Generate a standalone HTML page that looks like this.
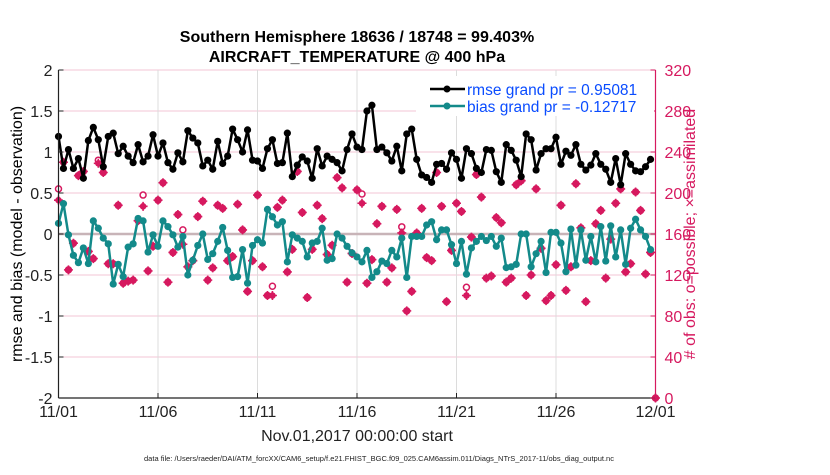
<!DOCTYPE html>
<html><head><meta charset="utf-8"><style>
body{margin:0;background:#fff;width:830px;height:470px;overflow:hidden}
svg text{font-family:"Liberation Sans",sans-serif}
</style></head><body>
<svg id="chart" width="830" height="470" xmlns="http://www.w3.org/2000/svg">
<rect width="830" height="470" fill="#fff"/>
<text x="357" y="42" text-anchor="middle" font-size="16" font-weight="bold">Southern Hemisphere 18636 / 18748 = 99.403%</text>
<text x="357" y="62" text-anchor="middle" font-size="16" font-weight="bold">AIRCRAFT_TEMPERATURE @ 400 hPa</text>
<g id="grid"></g>
<g id="marks"></g>
<g id="axes"></g>
<text transform="translate(22,234) rotate(-90)" text-anchor="middle" font-size="16">rmse and bias (model - observation)</text>
<text transform="translate(695,234) rotate(-90)" text-anchor="middle" font-size="16" fill="#d6195f"># of obs: o=possible; ×=assimilated</text>
<text x="357" y="441" text-anchor="middle" font-size="16" fill="#222">Nov.01,2017 00:00:00 start</text>
<text x="379" y="461" text-anchor="middle" font-size="7.5" fill="#222">data file: /Users/raeder/DAI/ATM_forcXX/CAM6_setup/f.e21.FHIST_BGC.f09_025.CAM6assim.011/Diags_NTrS_2017-11/obs_diag_output.nc</text>
<g>
<rect x="416" y="76" width="238" height="40" fill="#fff"/>
<line x1="430" y1="89" x2="465" y2="89" stroke="#000" stroke-width="2.5"/>
<circle cx="447" cy="89" r="3.5" fill="#000"/>
<text x="467" y="95" font-size="15.5" fill="#0a4cff">rmse grand pr = 0.95081</text>
<line x1="430" y1="106" x2="465" y2="106" stroke="#138a8a" stroke-width="2.5"/>
<circle cx="447" cy="106" r="3.5" fill="#138a8a"/>
<text x="467" y="112" font-size="15.5" fill="#0a4cff">bias grand pr = -0.12717</text>
</g>
</svg>
<script>
const xTickLabels=["11/01","11/06","11/11","11/16","11/21","11/26","12/01"];
const leftTicks=[-2,-1.5,-1,-0.5,0,0.5,1,1.5,2];
const rightTicks=[0,40,80,120,160,200,240,280,320];
const rmse=[1.19,0.80,1.03,0.80,0.92,0.68,1.14,1.30,1.15,0.82,1.19,1.23,0.98,1.07,0.95,0.87,1.09,0.88,0.95,1.21,0.95,1.11,0.87,0.79,0.99,0.88,1.26,1.17,1.11,0.83,0.90,0.79,1.13,0.86,0.95,1.28,1.15,1.00,1.27,0.90,0.89,0.80,1.04,1.15,0.86,0.87,1.23,0.70,0.84,0.94,0.89,0.68,1.04,0.83,0.95,0.91,0.87,0.77,1.03,1.22,1.06,1.03,1.50,1.57,1.03,1.06,0.99,0.89,1.07,0.77,1.22,1.28,0.91,0.72,0.69,0.63,0.85,0.86,0.79,0.99,0.91,0.68,1.04,0.98,0.80,0.75,1.03,1.02,0.76,0.63,1.09,1.02,0.90,0.70,1.22,1.15,0.78,0.98,1.04,1.04,1.18,0.85,1.01,0.96,1.09,0.85,0.78,0.84,0.98,0.85,0.79,0.63,0.92,0.60,0.98,0.85,0.77,0.76,0.82,0.91];
const bias=[0.13,0.37,-0.01,-0.26,-0.35,-0.17,-0.36,0.16,0.07,-0.05,-0.12,-0.61,-0.37,-0.52,-0.16,-0.12,0.19,0.16,-0.22,-0.01,-0.15,0.16,0.09,-0.01,-0.16,-0.03,-0.50,-0.32,-0.14,0.00,-0.31,-0.24,-0.09,0.08,-0.20,-0.53,-0.52,-0.19,-0.60,-0.14,-0.07,-0.11,0.30,0.21,0.11,0.15,-0.34,-0.01,-0.05,-0.09,-0.28,-0.11,-0.09,0.07,-0.32,-0.30,0.00,-0.05,-0.15,-0.23,-0.28,-0.34,-0.20,-0.53,-0.46,-0.33,-0.36,-0.20,-0.28,-0.05,-0.53,-0.03,-0.03,-0.03,0.11,0.15,-0.07,0.05,0.05,-0.13,-0.36,-0.09,-0.49,-0.17,-0.09,-0.03,-0.08,-0.03,-0.15,-0.05,-0.41,-0.40,-0.37,0.00,0.00,-0.40,-0.24,-0.09,-0.47,0.02,0.02,-0.11,-0.46,0.06,-0.38,0.05,-0.32,-0.03,-0.34,0.09,-0.33,0.10,-0.28,0.05,-0.37,0.07,0.18,0.05,-0.03,-0.19];
const nAssim=[193,230,125,151,217,221,143,136,229,220,131,131,188,112,114,115,173,187,124,148,193,210,113,142,179,150,128,134,177,192,115,127,188,185,134,138,189,164,104,134,198,128,100,100,186,193,123,145,221,181,98,145,188,175,140,149,215,205,113,141,203,190,112,135,170,187,113,127,184,161,85,104,161,185,137,134,220,187,94,144,190,182,100,157,218,196,117,119,176,171,113,117,208,212,100,120,204,146,95,100,130,188,105,128,209,166,94,134,170,183,117,155,190,204,123,131,201,183,121,142,0];
const nPoss=[204,230,125,151,217,221,143,136,232,220,131,131,188,112,114,115,173,198,124,148,193,210,113,142,179,164,128,134,177,192,115,127,188,185,134,138,189,164,104,134,198,128,100,109,186,193,123,145,221,181,98,145,188,175,140,149,215,205,113,141,203,199,112,135,170,187,113,127,184,167,85,104,161,185,137,134,220,187,94,144,190,182,108,157,218,196,117,119,176,171,113,117,208,212,100,120,204,146,95,100,130,188,105,128,209,166,94,134,170,183,117,155,190,204,123,131,201,183,121,142,0];
const NS='http://www.w3.org/2000/svg';
const X0=58.5,X1=655.5,YT=70,YB=398;
const xOf=d=>X0+(X1-X0)*d/30;
const yL=v=>YB-(YB-YT)*(v+2)/4;
const yR=c=>YB-(YB-YT)*c/320;
function mk(tag,attrs,parent){const e=document.createElementNS(NS,tag);for(const k in attrs)e.setAttribute(k,attrs[k]);parent.appendChild(e);return e;}
const grid=document.getElementById('grid'),marks=document.getElementById('marks'),axes=document.getElementById('axes');
rightTicks.forEach(c=>{const l=mk('line',{x1:X0,x2:X1,y1:yR(c),y2:yR(c),stroke:'#f3c6d6','stroke-width':1},grid);

});
xTickLabels.forEach((t,i)=>{const x=xOf(i*5);
if(i>0&&i<6){const g=mk('line',{x1:x,x2:x,y1:YT,y2:YB,stroke:'#dcdcdc','stroke-width':1},grid);

}
mk('line',{x1:x,x2:x,y1:YB,y2:YB-5,stroke:'#222'},axes);
const tx=mk('text',{x:x,y:417,'text-anchor':'middle','font-size':16,fill:'#222'},axes);tx.textContent=t;

});
const zl=mk('line',{x1:X0,x2:X1,y1:yL(0),y2:yL(0),stroke:'#c8b4b8','stroke-width':2.5},grid);


nPoss.forEach((c,i)=>{const cc=mk('circle',{cx:xOf(i*0.25),cy:yR(c),r:3,fill:'#fff',stroke:'#d6195f','stroke-width':1.5},marks);

});
nAssim.forEach((c,i)=>{const x=xOf(i*0.25),y=yR(c);const g=mk('g',{},marks);


mk('circle',{cx:x,cy:y,r:3.3,fill:'#d6195f'},g);
mk('path',{d:`M${x-4.5} ${y}H${x+4.5}M${x} ${y-4.5}V${y+4.5}`,stroke:'#d6195f','stroke-width':1.6},g);});
function series(arr,color,name){
const pts=arr.map((v,i)=>xOf(i*0.25)+','+yL(v)).join(' ');
const pl=mk('polyline',{points:pts,fill:'none',stroke:color,'stroke-width':2.5,'stroke-linejoin':'round'},marks);


arr.forEach((v,i)=>{const c=mk('circle',{cx:xOf(i*0.25),cy:yL(v),r:3.6,fill:color},marks);

});}
series(bias,'#138a8a','bias');
series(rmse,'#000','rmse');
mk('line',{x1:X0,x2:X0,y1:YT,y2:YB,stroke:'#222','stroke-width':1.2},axes);
mk('line',{x1:X0,x2:X1,y1:YB,y2:YB,stroke:'#222','stroke-width':1.2},axes);
mk('line',{x1:X1,x2:X1,y1:YT,y2:YB,stroke:'#d6195f','stroke-width':1.2},axes);
leftTicks.forEach(v=>{const y=yL(v);mk('line',{x1:X0,x2:X0+5,y1:y,y2:y,stroke:'#222'},axes);
const t=mk('text',{x:X0-6,y:y+6,'text-anchor':'end','font-size':16,fill:'#222'},axes);t.textContent=String(v);

});
rightTicks.forEach(c=>{const y=yR(c);mk('line',{x1:X1-5,x2:X1,y1:y,y2:y,stroke:'#d6195f'},axes);
const t=mk('text',{x:X1+9,y:y+6,'font-size':16,fill:'#d6195f'},axes);t.textContent=String(c);

});
</script>
</body></html>
